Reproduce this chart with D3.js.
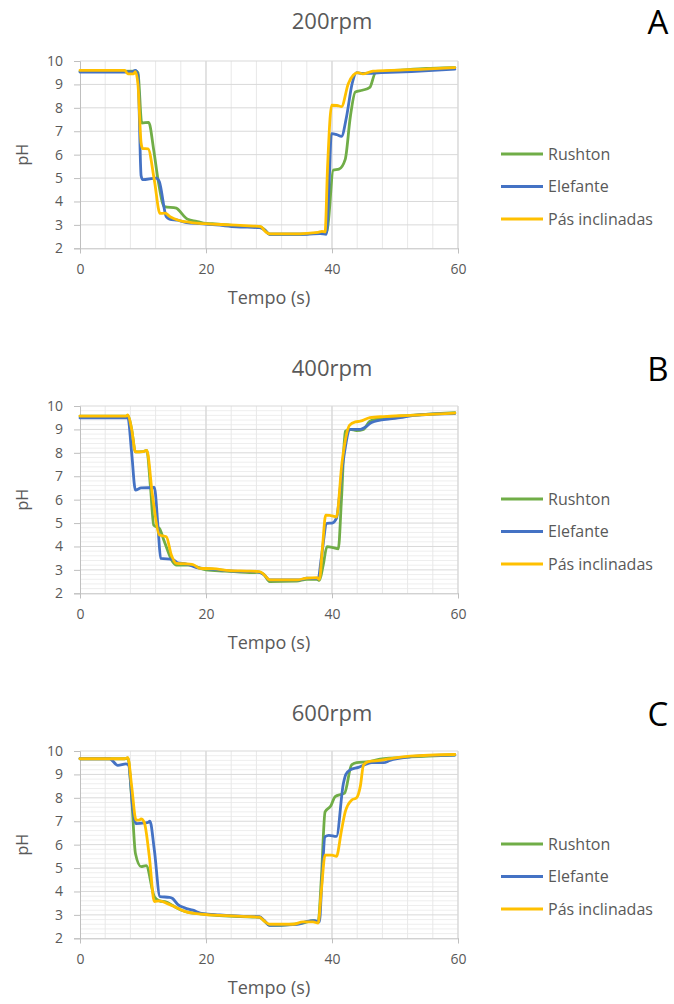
<!DOCTYPE html>
<html>
<head>
<meta charset="utf-8">
<script src="https://cdn.jsdelivr.net/npm/d3@7"></script>
<style>
  html, body { margin: 0; padding: 0; background: #fff; }
  svg { display: block; font-family: "Open Sans", sans-serif; }
</style>
</head>
<body>
<svg id="chart" width="674" height="1004"></svg>
<script>
// Series names, colours and panel labels
const seriesNames = ["Rushton", "Elefante", "Pás inclinadas"];
const seriesColors = ["#70AD47", "#4472C4", "#FFC000"];
const panelTitles = ["200rpm", "400rpm", "600rpm"];
const panelLetters = ["A", "B", "C"];
const xTicks = [0, 20, 40, 60];
const yTicks = [2, 3, 4, 5, 6, 7, 8, 9, 10];

// pH readings, [tempo (s), pH]
const rushton200 = [[0,9.55],[8.9,9.57],[9.2,9.5],[9.8,7.35],[10.9,7.38],[11.7,6.2],[12.4,4.9],[13.4,3.78],[15.3,3.72],[15.6,3.65],[17.1,3.24],[18.5,3.15],[19.6,3.08],[21,3.05],[23.5,3.0],[25,2.95],[28.5,2.92],[29.2,2.82],[30.1,2.6],[35,2.6],[37.5,2.65],[38.5,2.66],[39.2,2.7],[40.2,5.34],[41.1,5.38],[42.1,5.8],[42.9,7.6],[43.7,8.68],[44.8,8.75],[46.0,8.87],[46.9,9.5],[48,9.55],[52,9.63],[55,9.68],[58.9,9.72],[59.5,9.72]];
const elefante200 = [[0,9.53],[8.2,9.53],[8.8,9.6],[9.2,9.4],[9.7,5.1],[9.95,4.93],[12.1,5.0],[12.6,4.84],[13.7,3.35],[14.2,3.25],[15.5,3.2],[16.9,3.1],[19,3.05],[21.6,3.0],[24.8,2.92],[28.5,2.88],[29.3,2.78],[30.1,2.6],[36,2.6],[38.1,2.63],[39.1,2.6],[39.5,4.5],[39.9,6.9],[40.8,6.85],[41.5,6.78],[42.3,7.61],[43.2,9.04],[43.9,9.5],[44.8,9.47],[47.8,9.5],[52.6,9.55],[59.5,9.65]];
const pas200 = [[0,9.6],[7.1,9.6],[7.6,9.45],[8.5,9.45],[8.8,9.55],[9.2,9.0],[9.7,6.5],[9.95,6.26],[10.8,6.25],[11.8,4.91],[12.7,3.49],[13.5,3.5],[14.3,3.35],[15.6,3.2],[17.7,3.1],[19.8,3.05],[23.8,3.0],[27.5,2.95],[28.7,2.93],[29.3,2.75],[30.1,2.62],[34.9,2.62],[36.5,2.65],[37.8,2.68],[38.4,2.72],[38.9,2.7],[39.3,5.5],[39.95,8.11],[40.8,8.1],[41.5,8.05],[42.6,9.04],[43.4,9.4],[44.1,9.5],[44.9,9.45],[46.5,9.57],[49.4,9.6],[54.7,9.65],[59.5,9.72]];

const rushton400 = [[0,9.57],[7.3,9.57],[7.6,9.6],[8.2,9.0],[8.8,8.04],[10,8.05],[10.6,8.1],[11.2,6.5],[11.7,4.91],[12.6,4.77],[13.4,4.2],[14.7,3.35],[15.3,3.2],[17.4,3.2],[20,3.0],[23,2.95],[27.5,2.88],[28.5,2.9],[29.2,2.8],[30.1,2.5],[34.4,2.52],[36,2.6],[37.6,2.6],[38,2.55],[38.6,3.2],[39.2,3.99],[40.2,3.95],[41,3.9],[41.5,6.0],[42.1,8.92],[42.9,9.0],[43.9,8.95],[45,9.0],[46,9.35],[48.2,9.5],[52.4,9.6],[59.5,9.72]];
const elefante400 = [[0,9.49],[7.6,9.5],[8.2,8.0],[8.8,6.41],[9.7,6.5],[11.8,6.52],[12.4,4.77],[12.8,3.49],[14.7,3.45],[15.5,3.3],[16.9,3.25],[18.5,3.1],[20,3.05],[24.3,2.95],[28,2.93],[29.2,2.8],[30.1,2.57],[34.9,2.57],[36,2.65],[37.8,2.62],[38.3,3.5],[39.2,4.99],[40,5.0],[40.7,5.2],[41.7,7.5],[42.9,9.0],[44.5,9.0],[45.3,9.1],[46.3,9.3],[49.2,9.45],[50.8,9.5],[53,9.6],[59.5,9.68]];
const pas400 = [[0,9.57],[7.3,9.57],[7.6,9.62],[8.2,9.0],[8.8,8.04],[10,8.05],[10.6,8.1],[11.5,6.19],[12.6,4.49],[13.7,4.42],[14.5,3.64],[15.3,3.28],[17.4,3.25],[18,3.22],[19,3.07],[21.1,3.05],[23.8,2.97],[26.4,2.95],[28.5,2.93],[29.2,2.8],[30.1,2.57],[34.4,2.57],[36,2.65],[37.6,2.67],[38,2.6],[38.5,4.0],[39,5.34],[40.2,5.3],[40.7,5.25],[41.6,7.61],[42.8,9.18],[43.7,9.32],[44.5,9.35],[46,9.5],[48.2,9.55],[52.4,9.6],[59.5,9.7]];

const rushton600 = [[0,9.67],[7.1,9.67],[7.6,9.7],[8.2,8.0],[8.8,5.62],[9.7,5.06],[10.5,5.1],[11.8,3.78],[12.6,3.6],[13.7,3.55],[14.7,3.4],[16.1,3.2],[17.4,3.1],[19,3.05],[21.6,2.98],[25.4,2.93],[28.5,2.9],[29.2,2.75],[30.1,2.55],[33.8,2.6],[35.4,2.65],[37,2.75],[37.8,2.7],[38.3,4.5],[38.9,7.4],[39.8,7.65],[40.5,8.05],[41.5,8.15],[42,8.2],[43.1,9.4],[43.9,9.5],[46,9.55],[47.6,9.65],[52.4,9.75],[59.5,9.83]];
const elefante600 = [[0,9.67],[4.7,9.67],[6,9.39],[7.3,9.45],[7.7,9.4],[8.4,7.5],[8.9,6.9],[10.3,6.93],[10.8,6.95],[11.1,7.0],[11.8,5.77],[12.7,3.78],[14.2,3.75],[14.7,3.7],[15.5,3.45],[16.6,3.3],[17.9,3.2],[19.5,3.05],[22.2,3.0],[25.4,2.95],[28.5,2.92],[29.2,2.78],[30.1,2.55],[33.8,2.58],[34.9,2.62],[36,2.72],[37.3,2.75],[38,2.7],[38.4,4.5],[38.9,6.34],[39.5,6.4],[40.7,6.35],[41.8,8.6],[42.2,9.0],[42.9,9.2],[44.2,9.3],[45.5,9.45],[46.3,9.5],[48.2,9.5],[49.2,9.6],[52.4,9.75],[55,9.8],[59.5,9.83]];
const pas600 = [[0,9.67],[7.1,9.67],[7.6,9.72],[8.2,8.5],[8.9,7.05],[9.4,7.05],[9.7,7.1],[10.2,6.95],[11,5.5],[11.8,3.57],[12.6,3.6],[13.7,3.5],[15,3.35],[16.6,3.15],[18.5,3.05],[20.6,3.0],[23.2,2.97],[26.4,2.93],[28.5,2.9],[29.2,2.75],[30.1,2.6],[33.8,2.6],[35.4,2.7],[37,2.7],[37.8,2.65],[38.3,4.0],[38.9,5.55],[40,5.55],[40.7,5.5],[41.5,6.6],[42.1,7.4],[43.1,7.9],[43.9,8.0],[44.5,8.5],[45,9.4],[45.8,9.55],[47.6,9.6],[49.8,9.7],[52.4,9.78],[59.5,9.85]];

const panelSeries = [
  [rushton200, elefante200, pas200],
  [rushton400, elefante400, pas400],
  [rushton600, elefante600, pas600]
];
// panel A has only major horizontal gridlines
const minorHorizontal = [false, true, true];

const svg = d3.select("#chart");
const textGray = "#595959";
const panelStep = 345;
const plot = { left: 80, right: 458, top: 61, bottom: 248.3 };

panelSeries.forEach((series, p) => {
  const g = svg.append("g").attr("transform", `translate(0,${p * panelStep})`);

  const x = d3.scaleLinear().domain([0, 60]).range([plot.left, plot.right]);
  const y = d3.scaleLinear().domain([2, 10]).range([plot.bottom, plot.top]);

  // minor horizontal gridlines
  if (minorHorizontal[p]) {
    g.append("g").selectAll("line")
      .data(d3.range(2.2, 10, 0.2).filter(v => Math.abs(v - Math.round(v)) > 0.01))
      .join("line")
      .attr("x1", plot.left).attr("x2", plot.right)
      .attr("y1", d => y(d)).attr("y2", d => y(d))
      .attr("stroke", "#eeeeee").attr("stroke-width", 1);
  }
  // vertical gridlines every 4 s
  g.append("g").selectAll("line")
    .data(d3.range(4, 61, 4).concat([20, 40, 60]))
    .join("line")
    .attr("x1", d => x(d)).attr("x2", d => x(d))
    .attr("y1", plot.top).attr("y2", plot.bottom)
    .attr("stroke", d => d % 20 === 0 ? "#d9d9d9" : "#e8e8e8")
    .attr("stroke-width", 1);
  // major horizontal gridlines
  g.append("g").selectAll("line")
    .data(yTicks.slice(1))
    .join("line")
    .attr("x1", plot.left).attr("x2", plot.right)
    .attr("y1", d => y(d)).attr("y2", d => y(d))
    .attr("stroke", "#d9d9d9").attr("stroke-width", 1);

  // axes
  const xAxis = d3.axisBottom(x).tickValues(xTicks).tickSize(5).tickPadding(11);
  const yAxis = d3.axisLeft(y).tickValues(yTicks).tickSize(6).tickPadding(11);
  const gx = g.append("g").attr("transform", `translate(0,${plot.bottom})`).call(xAxis);
  const gy = g.append("g").attr("transform", `translate(${plot.left},0)`).call(yAxis);
  [gx, gy].forEach(a => {
    a.select(".domain").attr("stroke", "#bfbfbf");
    a.selectAll(".tick line").attr("stroke", "#bfbfbf");
    a.selectAll(".tick text").attr("fill", textGray).attr("font-size", 14)
      .attr("font-family", "'Open Sans', sans-serif");
  });

  // series lines
  const line = d3.line()
    .x(d => x(d[0]))
    .y(d => y(d[1]))
    .curve(d3.curveMonotoneX);
  series.forEach((data, i) => {
    g.append("path")
      .datum(data)
      .attr("d", line)
      .attr("fill", "none")
      .attr("stroke", seriesColors[i])
      .attr("stroke-width", 2.8)
      .attr("stroke-linejoin", "round")
      .attr("stroke-linecap", "round");
  });

  // axis titles
  g.append("text")
    .attr("x", (plot.left + plot.right) / 2).attr("y", 304)
    .attr("text-anchor", "middle").attr("fill", textGray)
    .attr("font-size", 18).text("Tempo (s)");
  g.append("text")
    .attr("transform", `translate(28,${(plot.top + plot.bottom) / 2}) rotate(-90)`)
    .attr("text-anchor", "middle").attr("fill", textGray)
    .attr("font-size", 16).text("pH");

  // chart title and panel letter
  g.append("text")
    .attr("x", 332).attr("y", 29 + (p > 0 ? 2 : 0))
    .attr("text-anchor", "middle").attr("fill", textGray)
    .attr("font-size", 22).text(panelTitles[p]);
  g.append("text")
    .attr("x", 658).attr("y", 34 + (p > 0 ? 2 : 0))
    .attr("text-anchor", "middle").attr("fill", "#000")
    .attr("font-size", 33).text(panelLetters[p]);

  // legend
  const legend = g.append("g");
  seriesNames.forEach((name, i) => {
    const ly = 154 + i * 32.5;
    legend.append("line")
      .attr("x1", 501).attr("x2", 543).attr("y1", ly).attr("y2", ly)
      .attr("stroke", seriesColors[i]).attr("stroke-width", 2.8);
    legend.append("text")
      .attr("x", 548).attr("y", ly + 5.5)
      .attr("fill", textGray).attr("font-size", 16).text(name);
  });
});
</script>
</body>
</html>
